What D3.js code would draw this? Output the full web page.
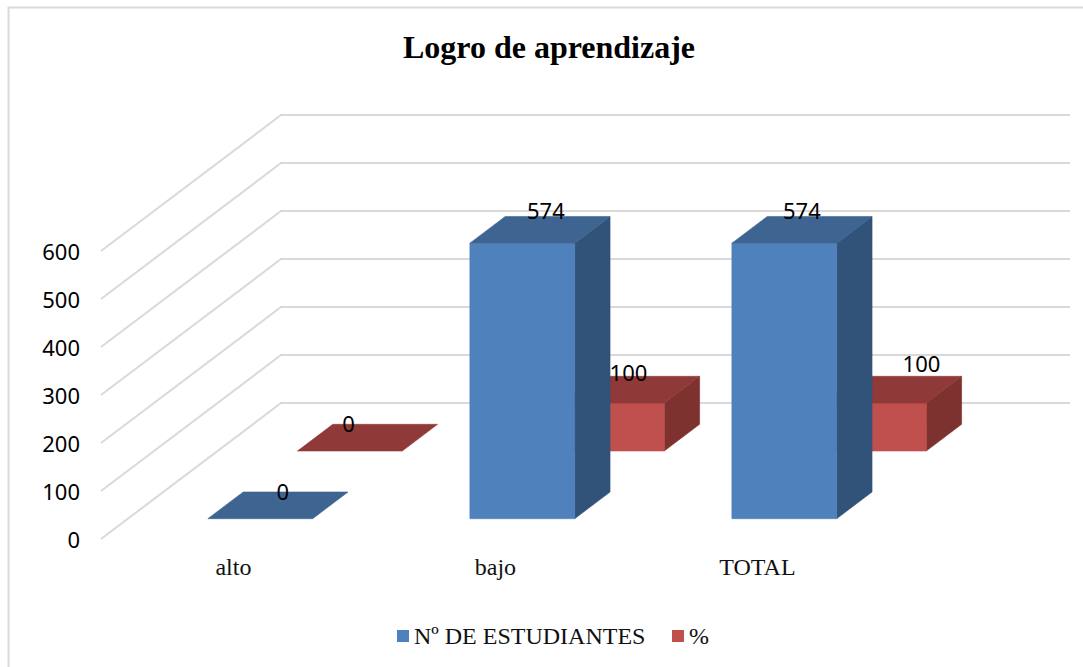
<!DOCTYPE html>
<html><head><meta charset="utf-8">
<script src="https://cdn.jsdelivr.net/npm/d3@7"></script>
<style>html,body{margin:0;background:#fff}svg{display:block}</style></head>
<body><svg id="c" width="1083" height="667"></svg>
<script>
const categories = ["alto","bajo","TOTAL"];
const seriesNames = ["Nº DE ESTUDIANTES","%"];
const estudiantes = [0,574,574];
const porcentaje = [0,100,100];
const yTicks = [0,100,200,300,400,500,600];
const colours = {
  "Nº DE ESTUDIANTES":{front:"#4f81bd",top:"#3e6591",side:"#325379"},
  "%":{front:"#c0504d",top:"#8f3a38",side:"#7d3230"}
};
const serifFont = "'Liberation Serif',serif", sansFont = "'Noto Sans',sans-serif";

const svg = d3.select("#c");
const W=1083,H=667;
const y = d3.scaleLinear().domain([0,600]).range([539,251]);
const x = d3.scaleBand().domain(categories).range([102.4,888.4]).paddingInner(0.6).paddingOuter(0.3);
const z = d3.scaleBand().domain(seriesNames).range([0,135]).paddingInner(0.605).paddingOuter(0.3);
const slant = 180/136;
const P = (cx,v,d)=>[cx+d*slant, y(v)-d];
const poly = pts=>pts.map(p=>p.join(",")).join(" ");

svg.append("path").attr("d",`M8.5,${H}V7.5H${W}`).attr("fill","none").attr("stroke","#d9d9d9").attr("stroke-width",2);

const backX1 = 1070, backD = 136;
svg.append("g").selectAll("polyline").data(yTicks).join("polyline")
  .attr("points",v=>poly([P(101,v,0),P(101,v,backD),[backX1,y(v)-backD]]))
  .attr("fill","none").attr("stroke","#d9d9d9").attr("stroke-width",2);

const gy = svg.append("g").attr("transform","translate(101,1)")
  .call(d3.axisLeft(y).tickValues(yTicks).tickSize(0).tickPadding(21));
gy.select(".domain").remove();
gy.selectAll("text").attr("font-family",sansFont).attr("font-size",22).attr("fill","#000");

const gx = svg.append("g").attr("transform","translate(0,568)")
  .call(d3.axisBottom(x).tickSize(0).tickPadding(0));
gx.select(".domain").remove();
gx.selectAll("text").attr("font-family",serifFont).attr("font-size",24).attr("fill","#111")
  .attr("dy","0.3em").attr("y",0);

const rows = [];
seriesNames.slice().reverse().forEach(s=>{
  const vals = s==="%"?porcentaje:estudiantes;
  categories.forEach((c,i)=>rows.push({s,c,i,v:vals[i]}));
});
const bw = x.bandwidth(), bd = z.bandwidth();
const bars = svg.append("g").selectAll("g").data(rows).join("g");
bars.each(function(r){
  const g=d3.select(this), c=colours[r.s], x0=x(r.c), x1=x0+bw, d0=z(r.s), d1=d0+bd;
  const face=(pts,col)=>g.append("polygon").attr("points",poly(pts)).attr("fill",col).attr("stroke",col).attr("stroke-width",0.6);
  if(r.v>0){
    face([P(x1,0,d0),P(x1,0,d1),P(x1,r.v,d1),P(x1,r.v,d0)],c.side);
    face([P(x0,0,d0),P(x1,0,d0),P(x1,r.v,d0),P(x0,r.v,d0)],c.front);
  }
  face([P(x0,r.v,d0),P(x1,r.v,d0),P(x1,r.v,d1),P(x0,r.v,d1)],c.top);
});

// data labels: hand nudges follow the original's placement
const labelNudges = {"Nº DE ESTUDIANTES":[[75,0],[76,-5],[70,-5]],"%":[[51,0],[69,-3],[100,-12]]};
svg.append("g").selectAll("text").data(rows).join("text")
  .text(r=>r.v)
  .attr("x",r=>x(r.c)+z(r.s)*slant+labelNudges[r.s][r.i][0])
  .attr("y",r=>y(r.v)-z(r.s)-bd+labelNudges[r.s][r.i][1])
  .attr("dy","0.35em").attr("text-anchor","middle")
  .attr("font-family",sansFont).attr("font-size",22).attr("fill","#000");

svg.append("text").text("Logro de aprendizaje").attr("x",549).attr("y",58).attr("text-anchor","middle")
  .attr("font-family",serifFont).attr("font-weight","bold").attr("font-size",32).attr("fill","#000");

const legendX = {"Nº DE ESTUDIANTES":397,"%":672};
const lg = svg.append("g").selectAll("g").data(seriesNames).join("g").attr("transform",s=>`translate(${legendX[s]},630)`);
lg.append("rect").attr("width",12).attr("height",12).attr("fill",s=>colours[s].front);
lg.append("text").text(s=>s).attr("x",17).attr("y",14).attr("font-family",serifFont).attr("font-size",24).attr("fill","#111");
</script></body></html>
